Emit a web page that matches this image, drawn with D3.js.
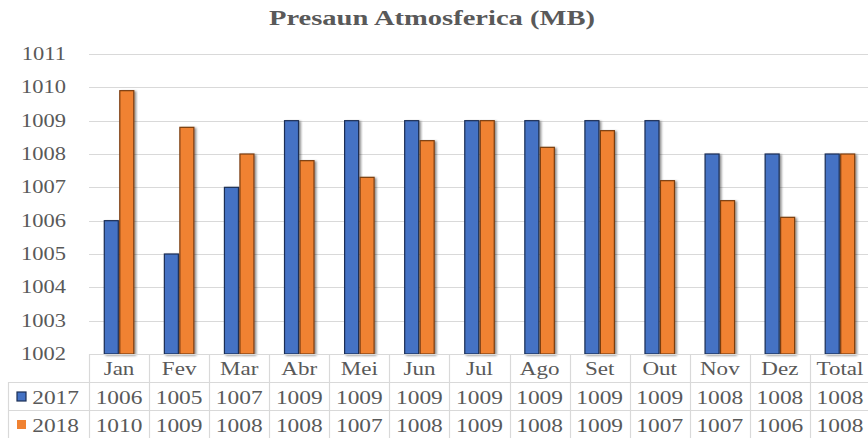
<!DOCTYPE html>
<html>
<head>
<meta charset="utf-8">
<script src="https://cdn.jsdelivr.net/npm/d3@7"></script>
<style>
  html, body { margin: 0; padding: 0; background: #fff; }
  svg { display: block; }
  text { font-family: "Liberation Serif", serif; fill: #595959; }
</style>
</head>
<body>
<svg id="chart" width="868" height="438"></svg>
<script>
const categories = ["Jan","Fev","Mar","Abr","Mei","Jun","Jul","Ago","Set","Out","Nov","Dez","Total"];
const seriesNames = ["2017","2018"];
const values2017 = [1006,1005,1007,1009,1009,1009,1009,1009,1009,1009,1008,1008,1008];
const values2018 = [1009.9,1008.8,1008.0,1007.8,1007.3,1008.4,1009.0,1008.2,1008.7,1007.2,1006.6,1006.1,1008.0];
const yTicks = [1002,1003,1004,1005,1006,1007,1008,1009,1010,1011];
const title = "Presaun Atmosferica (MB)";

const W = 868, H = 438;
const plot = {left: 89, right: 870, top: 54, bottom: 354};
const colors = ["#4472C4", "#F08232"];
const strokes = ["#1c2f55", "#7a3c10"];
const series = [values2017, values2018];

const svg = d3.select("#chart");
const defs = svg.append("defs");
const f = defs.append("filter").attr("id","shadow").attr("x","-30%").attr("y","-10%").attr("width","160%").attr("height","130%");
f.append("feDropShadow").attr("dx",1.8).attr("dy",1).attr("stdDeviation",0.9).attr("flood-color","#000").attr("flood-opacity",0.45);

const x0 = d3.scaleBand().domain(categories).range([plot.left, plot.right]).paddingInner(0.484).paddingOuter(0.242);
const x1 = d3.scaleBand().domain(seriesNames).range([0, x0.bandwidth()]).padding(0);
const y = d3.scaleLinear().domain([1002, 1011]).range([plot.bottom, plot.top]);

function stext(sel, x, yy, sx, size, anchor, str, weight) {
  return sel.append("text")
    .attr("transform", `translate(${x},${yy}) scale(${sx},1)`)
    .attr("text-anchor", anchor)
    .attr("font-family", "Liberation Serif")
    .attr("font-size", size)
    .attr("font-weight", weight || "normal")
    .attr("fill", "#595959")
    .text(str);
}

// Title
stext(svg, W/2 - 2, 25, 1.36, 21, "middle", title, "bold").attr("fill", "#555555");

// Gridlines
svg.append("g").selectAll("line").data(yTicks.filter(t => t > 1002)).join("line")
  .attr("x1", plot.left).attr("x2", plot.right)
  .attr("y1", d => Math.round(y(d)) + 0.5).attr("y2", d => Math.round(y(d)) + 0.5)
  .attr("stroke", "#d9d9d9").attr("stroke-width", 1.2);

// Y tick labels
const yl = svg.append("g");
yTicks.forEach(t => stext(yl, 66, y(t) + 6, 1.25, 18, "end", String(t)));

// Bars
const bars = svg.append("g");
categories.forEach((c, i) => {
  seriesNames.forEach((s, j) => {
    const v = series[j][i];
    bars.append("rect")
      .attr("x", x0(c) + x1(s) + 0.75)
      .attr("y", y(v))
      .attr("width", x1.bandwidth() - 1.5)
      .attr("height", y(1002) - y(v))
      .attr("fill", colors[j])
      .attr("stroke", strokes[j])
      .attr("stroke-width", 1.2)
      .attr("filter", "url(#shadow)");
  });
});

// Data table
const tbl = svg.append("g");
const rowTop = [354, 382, 410, 438];
const tableLeft = 8;
const grid = "#d9d9d9";
tbl.append("line").attr("x1", plot.left).attr("x2", plot.right).attr("y1", rowTop[0]+0.5).attr("y2", rowTop[0]+0.5).attr("stroke", grid).attr("stroke-width", 1.2);
[1,2,3].forEach(r => tbl.append("line").attr("x1", tableLeft).attr("x2", plot.right).attr("y1", rowTop[r]+0.5).attr("y2", rowTop[r]+0.5).attr("stroke", grid).attr("stroke-width", 1.2));
const colEdges = categories.map(c => x0(c) - x0.step()*x0.paddingOuter()).concat([plot.right]);
colEdges.forEach(xe => tbl.append("line").attr("x1", Math.round(xe)+0.5).attr("x2", Math.round(xe)+0.5).attr("y1", rowTop[0]).attr("y2", rowTop[3]).attr("stroke", grid).attr("stroke-width", 1.2));
tbl.append("line").attr("x1", tableLeft+0.5).attr("x2", tableLeft+0.5).attr("y1", rowTop[1]).attr("y2", rowTop[3]).attr("stroke", grid).attr("stroke-width", 1.2);

categories.forEach(c => stext(tbl, x0(c) + x0.bandwidth()/2, 375, 1.28, 18, "middle", c));
seriesNames.forEach((s, j) => {
  const by = rowTop[j+1];
  tbl.append("rect").attr("x", 17).attr("y", by + 10).attr("width", 9).attr("height", 9)
    .attr("fill", colors[j]).attr("stroke", strokes[j]).attr("stroke-width", j === 0 ? 1.2 : 0);
  stext(tbl, 79, by + 22, 1.3, 18, "end", s);
  categories.forEach((c, i) => stext(tbl, x0(c) + x0.bandwidth()/2, by + 22, 1.3, 18, "middle", String(Math.round(series[j][i]))));
});
</script>
</body>
</html>
